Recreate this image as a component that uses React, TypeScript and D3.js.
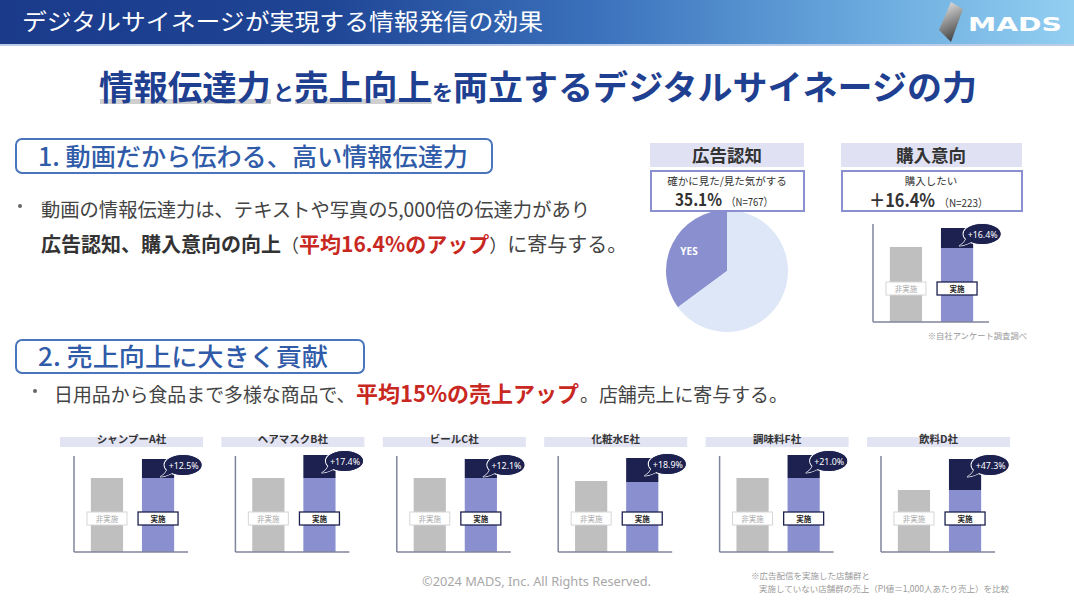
import React from 'react';
import * as d3 from 'd3';

const companies = ['シャンプーA社', 'ヘアマスクB社', 'ビールC社', '化粧水E社', '調味料F社', '飲料D社'];
const liftLabels = ['+12.5%', '+17.4%', '+12.1%', '+18.9%', '+21.0%', '+47.3%'];
const nonImplValues = [74, 74, 74, 71, 74, 62];
const implBaseValues = [74, 74, 74, 70, 74, 62];
const implValues = [93, 97, 93, 94, 97, 93];
const groupLabels = ['非実施', '実施'];

const awarenessValues = [35.1, 64.9];
const awarenessLabels = ['YES', ''];
const intentNonImpl = 75;
const intentImplBase = 74;
const intentImpl = 94;
const intentLift = '+16.4%';

const FONT = "'Noto Sans CJK JP', 'Noto Sans', sans-serif";
const NAVY = '#1d2150';
const LAV = '#8a90cf';
const GRAY_BAR = '#bfbfbf';
const AXIS = '#7f849b';

function Bubble({ cx, cy, label }: { cx: number; cy: number; label: string }) {
  const tail = `M${cx - 15},${cy + 2} Q${cx - 17},${cy + 9} ${cx - 23},${cy + 12} Q${cx - 15},${cy + 11} ${cx - 9},${cy + 7} Z`;
  return (
    <g>
      <path d={tail} fill={NAVY} stroke="#fff" strokeWidth={1.2} />
      <ellipse cx={cx} cy={cy} rx={19} ry={10.5} fill={NAVY} stroke="#fff" strokeWidth={1.2} />
      <path d={tail} fill={NAVY} />
      <ellipse cx={cx} cy={cy} rx={18.5} ry={10} fill={NAVY} />
      <text x={cx - 14.5} y={cy + 3.5} fontSize={9.5} fill="#fff" fontFamily="'Noto Sans', sans-serif" textLength={30} lengthAdjust="spacingAndGlyphs">
        {label}
      </text>
    </g>
  );
}

function BarPair({ ax, top, bottom, axisLen, non, base, total, lift }: any) {
  const x = d3.scaleBand<string>().domain(groupLabels).range([ax, ax + 117]).paddingInner(0.37).paddingOuter(0.33);
  const y = d3.scaleLinear().domain([0, 100]).range([bottom, bottom - 100]);
  const bw = x.bandwidth();
  const xn = x(groupLabels[0]) as number;
  const xi = x(groupLabels[1]) as number;
  const boxTop = bottom - 40;
  return (
    <g>
      <rect x={xn} y={y(non)} width={bw} height={bottom - y(non)} fill={GRAY_BAR} />
      <rect x={xi} y={y(base)} width={bw} height={bottom - y(base)} fill={LAV} />
      <rect x={xi} y={y(total)} width={bw} height={y(base) - y(total)} fill={NAVY} />
      <line x1={ax} x2={ax} y1={top} y2={bottom} stroke={AXIS} strokeWidth={1.5} />
      <line x1={ax} x2={ax + axisLen} y1={bottom} y2={bottom} stroke={AXIS} strokeWidth={1.5} />
      <rect x={xn + bw / 2 - 20} y={boxTop} width={40} height={13} fill="#fff" stroke="#d6d6d6" strokeWidth={1} />
      <text x={xn + bw / 2} y={boxTop + 9.5} textAnchor="middle" fontSize={7.5} fill="#aaa" fontFamily={FONT}>
        {groupLabels[0]}
      </text>
      <rect x={xi + bw / 2 - 20} y={boxTop} width={40} height={13} fill="#fff" stroke={NAVY} strokeWidth={1.3} />
      <text x={xi + bw / 2} y={boxTop + 9.5} textAnchor="middle" fontSize={7.5} fontWeight={700} fill="#222" fontFamily={FONT}>
        {groupLabels[1]}
      </text>
      <Bubble cx={xi + bw + 9} cy={y(total) + 6} label={lift} />
    </g>
  );
}

function Pie() {
  const cx = 727, cy = 271, r = 61;
  const startA = -2 * Math.PI * (awarenessValues[0] / 100);
  const pie = d3.pie<number>().sort(null).startAngle(startA).endAngle(startA + 2 * Math.PI);
  const arcs = pie(awarenessValues);
  const arc = d3.arc<d3.PieArcDatum<number>>().innerRadius(0).outerRadius(r);
  const colors = [LAV, '#dde7f8'];
  return (
    <g transform={`translate(${cx},${cy})`}>
      {arcs.map((a, i) => (
        <path key={i} d={arc(a) as string} fill={colors[i]} />
      ))}
      <text x={-38} y={-16} textAnchor="middle" fontSize={10} fontWeight={700} fill="#fff" fontFamily="'Noto Sans', sans-serif">
        {awarenessLabels[0]}
      </text>
    </g>
  );
}

export default function App() {
  const stepX = 161.4;
  return (
    <svg width={1074} height={600} style={{ position: 'absolute', left: 0, top: 0, background: '#fff' }} fontFamily={FONT}>
      <defs>
        <linearGradient id="hdr" x1="0" x2="1" y1="0" y2="0">
          <stop offset="0" stopColor="#1b3a8a" />
          <stop offset="0.3" stopColor="#1f4595" />
          <stop offset="0.55" stopColor="#3a70bb" />
          <stop offset="0.8" stopColor="#68a8dd" />
          <stop offset="1" stopColor="#93cff1" />
        </linearGradient>
        <linearGradient id="logo" x1="0" x2="0.3" y1="0" y2="1">
          <stop offset="0" stopColor="#f0f0f0" />
          <stop offset="0.5" stopColor="#9a9a9a" />
          <stop offset="1" stopColor="#4a4a4a" />
        </linearGradient>
      </defs>
      <rect x={0} y={0} width={1074} height={600} fill="#fff" />
      {/* header band */}
      <rect x={0} y={0} width={1074} height={44} fill="url(#hdr)" />
      <rect x={0} y={44} width={1074} height={2} fill="#9fb6dc" opacity={0.7} />
      <text x={22} y={30} fontSize={23} fill="#fff" textLength={521} lengthAdjust="spacingAndGlyphs">
        デジタルサイネージが実現する情報発信の効果
      </text>
      <path d="M951,2 L963,9 L951,42 L939,30 Z" fill="url(#logo)" />
      <text x={968} y={31} fontSize={19} fontWeight={700} fill="#fff" fontFamily="'DejaVu Sans', sans-serif" textLength={94} lengthAdjust="spacingAndGlyphs">
        MADS
      </text>

      {/* main title */}
      <rect x={100} y={99} width={171} height={5} fill="#cfcfcf" />
      <rect x={295} y={99} width={137} height={5} fill="#cfcfcf" />
      <text fill="#1f3f91" fontWeight={700} y={100}>
        <tspan x={99} fontSize={34} textLength={172} lengthAdjust="spacingAndGlyphs">情報伝達力</tspan>
        <tspan x={273} fontSize={21}>と</tspan>
        <tspan x={294} fontSize={34} textLength={138} lengthAdjust="spacingAndGlyphs">売上向上</tspan>
        <tspan x={432} fontSize={21}>を</tspan>
        <tspan x={453} fontSize={34} textLength={524} lengthAdjust="spacingAndGlyphs">両立するデジタルサイネージの力</tspan>
      </text>

      {/* section 1 */}
      <rect x={16} y={139} width={476} height={34} rx={6} fill="#fff" stroke="#4a74bb" strokeWidth={2} />
      <text x={38} y={166} fontSize={25} fontWeight={500} fill="#2f5ba8" textLength={430} lengthAdjust="spacingAndGlyphs">
        1. 動画だから伝わる、高い情報伝達力
      </text>
      <circle cx={20} cy={206} r={2} fill="#666" />
      <text x={41} y={217} fontSize={19.5} fill="#444" textLength={549} lengthAdjust="spacingAndGlyphs">
        動画の情報伝達力は、テキストや写真の5,000倍の伝達力があり
      </text>
      <text x={41} y={252} fontSize={20} fill="#444">
        <tspan fontWeight={700} fill="#333">広告認知、購入意向の向上</tspan>
        <tspan fontSize={18}>（</tspan>
        <tspan fontSize={21} fontWeight={700} fill="#c8281f">平均16.4%のアップ</tspan>
        <tspan fontSize={18}>）</tspan>
        <tspan>に寄与する。</tspan>
      </text>

      {/* section 2 */}
      <rect x={16} y={340} width={348} height={33} rx={6} fill="#fff" stroke="#4a74bb" strokeWidth={2} />
      <text x={38} y={366} fontSize={25} fontWeight={500} fill="#2f5ba8" textLength={290} lengthAdjust="spacingAndGlyphs">
        2. 売上向上に大きく貢献
      </text>
      <circle cx={35} cy={391} r={2} fill="#666" />
      <text y={402}>
        <tspan x={54} fontSize={18.9} fill="#444">日用品から食品まで多様な商品で、</tspan>
        <tspan x={356} fontSize={22} fontWeight={700} fill="#c8281f" textLength={223} lengthAdjust="spacingAndGlyphs">平均15%の売上アップ</tspan>
        <tspan x={580} fontSize={18.9} fill="#444">。店舗売上に寄与する。</tspan>
      </text>

      {/* awareness */}
      <Pie />
      <rect x={650} y={143} width={154} height={24} fill="#e0e2f3" />
      <text x={727} y={162} textAnchor="middle" fontSize={17.5} fontWeight={700} fill="#333">広告認知</text>
      <rect x={651} y={171} width={153} height={40} fill="#fff" stroke={LAV} strokeWidth={2} />
      <text x={727} y={185} textAnchor="middle" fontSize={10.5} fill="#333">確かに見た/見た気がする</text>
      <text y={206}>
        <tspan x={675} fontSize={17} fontWeight={700} fill="#333" textLength={47} lengthAdjust="spacingAndGlyphs">35.1%</tspan>
        <tspan x={726} fontSize={11} fill="#333" textLength={47} lengthAdjust="spacingAndGlyphs">（N=767）</tspan>
      </text>

      {/* purchase intent */}
      <rect x={841} y={143} width={181} height={24} fill="#e0e2f3" />
      <text x={931} y={162} textAnchor="middle" fontSize={17.5} fontWeight={700} fill="#333">購入意向</text>
      <rect x={842} y={171} width={180} height={40} fill="#fff" stroke={LAV} strokeWidth={2} />
      <text x={931} y={185} textAnchor="middle" fontSize={10.5} fill="#333">購入したい</text>
      <text y={207}>
        <tspan x={869} fontSize={18} fontWeight={700} fill="#333" textLength={66} lengthAdjust="spacingAndGlyphs">＋16.4%</tspan>
        <tspan x={939} fontSize={11} fill="#333" textLength={49} lengthAdjust="spacingAndGlyphs">（N=223）</tspan>
      </text>
      <BarPair ax={873} top={224} bottom={322} axisLen={116} non={intentNonImpl} base={intentImplBase} total={intentImpl} lift={intentLift} />
      <text x={1027} y={339} textAnchor="end" fontSize={8.3} fill="#999">※自社アンケート調査調べ</text>

      {/* company charts */}
      {companies.map((c, i) => {
        const hx = 60 + i * stepX;
        return (
          <g key={c}>
            <rect x={hx} y={437} width={143} height={10} fill="#e2e4f3" />
            <text x={hx + 71.5} y={443} textAnchor="middle" fontSize={10.5} fontWeight={700} fill="#333">{c}</text>
            <BarPair ax={hx + 14} top={456} bottom={552} axisLen={114} non={nonImplValues[i]} base={implBaseValues[i]} total={implValues[i]} lift={liftLabels[i]} />
          </g>
        );
      })}

      {/* footer */}
      <text x={422} y={586} fontSize={12.5} fill="#a8a8a8" fontFamily="'Noto Sans', sans-serif" textLength={229} lengthAdjust="spacingAndGlyphs">
        ©2024 MADS, Inc. All Rights Reserved.
      </text>
      <text x={751} y={579} fontSize={8.5} fill="#999">※広告配信を実施した店舗群と</text>
      <text x={759} y={592} fontSize={8.5} fill="#999" textLength={250} lengthAdjust="spacingAndGlyphs">
        実施していない店舗群の売上（PI値＝1,000人あたり売上）を比較
      </text>
    </svg>
  );
}
